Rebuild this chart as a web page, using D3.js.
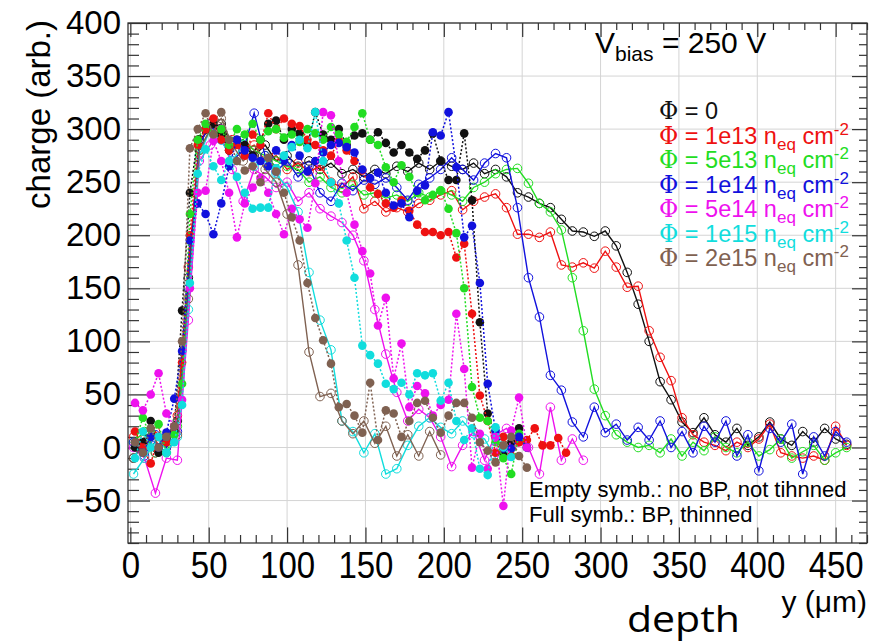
<!DOCTYPE html>
<html>
<head>
<meta charset="utf-8">
<script src="https://cdn.jsdelivr.net/npm/d3@7"></script>
<style>
  body { margin:0; background:#fff; }
  text { font-family: "Liberation Sans", Arial, sans-serif; fill:#000; }
  .grid line { stroke:#d4d4d4; stroke-width:1; }
  .ax path { display:none; }
  .ax line { stroke:#333; stroke-width:1.2; }
</style>
</head>
<body>
<script>
// sample positions (um)
var depthEmpty = [2,9,16,23,30,37,44,51,58,65,72,79,86,93,100,107,114,121,128,135,142,149,156,163,170,177,184,191,198,205,212,219,226,233,240,247,254,261,268,275,282,289,296,303,310,317,324,331,338,345,352,359,366,373,380,387,394,401,408,415,422,429,436,443,450,457]
var depthFull = [3,8,13,18,23,28,33,38,43,48,53,58,63,68,73,78,83,88,93,98,103,108,113,118,123,128,133,138,143,148,153,158,163,168,173,178,183,188,193,198,203,208,213,218,223,228,233,238,243,248,253,258,263,268,273,278]

// empty symbols: no BP, not thinned
var empty0    = [-10,5,0,10,25,160,290,300,305,285,290,275,285,270,275,265,270,262,268,258,262,255,262,258,265,260,268,262,270,265,262,268,258,262,255,240,236,230,226,215,204,203,199,204,190,165,135,100,62,45,24,14,28,12,5,18,2,10,24,8,2,15,5,18,8,3]
var empty1e13 = [10,-5,15,0,30,170,285,305,295,290,280,285,270,275,262,268,260,265,250,245,255,225,232,222,226,222,230,233,238,242,224,232,236,239,226,201,201,198,203,172,170,174,169,185,170,151,152,110,85,63,28,12,5,2,-3,5,0,8,22,-5,-8,-10,-8,-12,20,2]
var empty5e13 = [5,15,-5,10,20,150,280,300,295,285,290,280,275,270,265,262,250,255,245,240,248,238,240,235,238,232,240,236,242,238,232,245,250,258,262,263,249,230,222,205,160,110,55,30,12,5,0,2,-5,8,-8,5,-3,10,0,-5,5,-8,-2,8,-10,-4,2,-12,-5,0]
var empty1e14 = [5,-8,12,0,15,150,285,305,290,270,280,315,275,260,270,255,265,240,232,249,242,252,248,254,245,233,248,254,262,273,262,252,268,277,273,226,160,123,68,54,24,10,38,14,22,7,19,7,25,0,15,-5,20,5,25,-8,12,-22,18,5,22,-25,10,-8,15,5]
var empty5e14 = [0,-10,-43,-10,-12,120,270,285,300,262,232,262,255,245,250,232,240,225,218,212,200,176,130,88,52,25,36,28,10,-18,2,15,-12,12,18,5,0,-25,38,-12,8,-12]
var empty1e15 = [-25,-10,5,-5,10,130,275,300,290,270,285,265,270,258,245,222,165,120,92,25,15,-5,13,-25,-20,2,20,28,19,13,25,13,8,-10]
var empty2e15 = [-10,8,-5,10,12,140,280,300,310,285,270,280,262,250,220,172,90,48,51,25,13,25,4,20,-8,12,-8,15,-7]

// full symbols: BP, thinned
var full0    = [0,5,25,-5,8,15,129,240,290,300,305,295,280,290,285,275,290,305,308,290,300,296,285,316,295,290,300,285,294,296,290,297,287,278,285,278,272,280,296,270,252,252,296,233,118,32,10,-5,5,18]
var full1e13 = [15,0,-15,10,5,20,80,200,285,300,310,290,280,285,275,295,285,315,300,310,305,303,290,285,280,275,289,280,270,261,245,239,230,226,233,223,210,203,203,200,203,179,192,126,49,25,-5,10,-8,5,7,18,2,2,9,-5]
var full5e13 = [5,28,10,22,-5,12,60,220,290,305,295,300,285,300,295,305,290,298,300,292,295,288,300,296,290,302,295,288,302,315,290,285,264,250,266,255,240,233,238,242,225,202,150,57,28,25,5,-10,-25,13,0]
var full1e14 = [5,-5,10,0,14,46,91,195,230,220,201,230,265,290,280,273,270,265,280,270,285,275,260,270,278,285,287,283,278,262,254,259,240,228,230,217,242,247,297,294,316,264,198,209,155,60,16,-1,-1,10,0]
var full5e14 = [42,35,50,70,32,20,45,150,240,242,289,270,240,198,230,245,254,240,220,201,225,215,207,249,316,313,270,240,210,185,164,115,141,65,98,38,58,51,30,40,45,126,74,-19,13,-20,10,-55,16,47,0]
var full1e15 = [-10,15,0,10,-5,5,40,155,258,281,265,252,270,255,240,225,226,226,263,275,283,290,282,316,270,250,230,195,160,96,87,79,60,55,61,50,70,68,70,44,61,25,7,18,-20,-26,19,0,-9]
var full2e15 = [5,-5,18,0,10,20,100,282,300,315,295,316,290,270,261,265,250,273,260,240,217,195,155,122,101,79,38,41,30,14,61,7,35,32,10,25,42,44,28,14,30,42,42,28,5,-3,-14,2,10,-8,-19]

var fluenceLabels = ['0', '1e13', '5e13', '1e14', '5e14', '1e15', '2e15']
var colors = ['#111111', '#ee1111', '#22dd22', '#1111dd', '#ee11ee', '#11dddd', '#7f6151']
var emptySeries = [empty0, empty1e13, empty5e13, empty1e14, empty5e14, empty1e15, empty2e15]
var fullSeries = [full0, full1e13, full5e13, full1e14, full5e14, full1e15, full2e15]

var xMajor = [0,50,100,150,200,250,300,350,400,450]
var yMajor = [-50,0,50,100,150,200,250,300,350,400]

var W = 879, H = 642
var svg = d3.select('body').append('svg').attr('width', W).attr('height', H)

var x = d3.scaleLinear().domain([-1.5, 470]).range([128, 867])
var y = d3.scaleLinear().domain([-90, 400]).range([543, 23])

// grid
var grid = svg.append('g').attr('class', 'grid')
grid.selectAll('.gx').data(xMajor).enter().append('line')
  .attr('x1', d => x(d)).attr('x2', d => x(d)).attr('y1', y(400)).attr('y2', y(-90))
grid.selectAll('.gy').data(yMajor).enter().append('line')
  .attr('y1', d => y(d)).attr('y2', d => y(d)).attr('x1', x(-1.5)).attr('x2', x(470))

// ticks (ROOT style, inside the frame)
var xMinor = d3.range(0, 471, 10).filter(v => v % 50 != 0)
var yMinor = d3.range(-90, 401, 10).filter(v => v % 50 != 0)

function ticks(axisFn, scale, pos, vals, size, fmt) {
  var a = axisFn(scale).tickValues(vals).tickSizeInner(-size).tickSizeOuter(0)
  if (fmt) a.tickFormat(fmt).tickPadding(7); else a.tickFormat('')
  return svg.append('g').attr('class', 'ax').attr('transform', pos).call(a)
}
var yl = ticks(d3.axisLeft, y, 'translate(128,0)', yMajor, 22, d => d < 0 ? '\u2212' + Math.abs(d) : d)
ticks(d3.axisLeft, y, 'translate(128,0)', yMinor, 11)
ticks(d3.axisRight, y, 'translate(867,0)', yMajor, 15)
ticks(d3.axisRight, y, 'translate(867,0)', yMinor, 8)
var xl = ticks(d3.axisBottom, x, 'translate(0,543)', xMajor, 15.6, d => d)
ticks(d3.axisBottom, x, 'translate(0,543)', xMinor, 8)
ticks(d3.axisTop, x, 'translate(0,23)', xMajor, 14)
ticks(d3.axisTop, x, 'translate(0,23)', xMinor, 7)

yl.selectAll('text').style('font-size', '33px').attr('fill', '#000')
xl.selectAll('text').style('font-size', '33px').attr('fill', '#000')
  .attr('y', null).attr('dy', null).attr('transform', 'translate(0,35) scale(1,1.14)')

// frame
svg.append('rect').attr('x', 128).attr('y', 23).attr('width', 739).attr('height', 520)
  .attr('fill', 'none').attr('stroke', '#333').attr('stroke-width', 1.3)

// data
var line = d3.line().x(d => x(d[0])).y(d => y(d[1]))
var plot = svg.append('g')

emptySeries.forEach(function(vals, i) {
  var pts = vals.map((v, k) => [depthEmpty[k], v])
  plot.append('path').attr('d', line(pts)).attr('fill', 'none')
    .attr('stroke', colors[i]).attr('stroke-width', 1.4)
  plot.selectAll(null).data(pts).enter().append('circle')
    .attr('cx', d => x(d[0])).attr('cy', d => y(d[1])).attr('r', 4.3)
    .attr('fill', 'none').attr('stroke', colors[i]).attr('stroke-width', 1)
})
fullSeries.forEach(function(vals, i) {
  var pts = vals.map((v, k) => [depthFull[k], v])
  plot.append('path').attr('d', line(pts)).attr('fill', 'none')
    .attr('stroke', colors[i]).attr('stroke-width', 1.5).attr('stroke-dasharray', '2,2')
  plot.selectAll(null).data(pts).enter().append('circle')
    .attr('cx', d => x(d[0])).attr('cy', d => y(d[1])).attr('r', 4.3)
    .attr('fill', colors[i])
})

// axis titles
svg.append('text').attr('transform', 'translate(50,20) rotate(-90)')
  .attr('text-anchor', 'end').style('font-size', '33px').text('charge (arb.)')
svg.append('text').attr('x', 867).attr('y', 612).attr('text-anchor', 'end')
  .style('font-size', '30px').text('y (\u03bcm)')
svg.append('text').attr('x', 627).attr('y', 632).attr('textLength', 113).attr('lengthAdjust', 'spacingAndGlyphs')
  .style('font-family', '"Open Sans", "Noto Sans", sans-serif').style('font-size', '36px').text('depth')

// bias label
var vb = svg.append('text').attr('x', 595).attr('y', 53).style('font-size', '30px')
vb.append('tspan').text('V')
vb.append('tspan').attr('dy', 8).style('font-size', '21px').text('bias')
vb.append('tspan').attr('dy', -8).text(' = 250 V')

// legend
fluenceLabels.forEach(function(lab, i) {
  var t = svg.append('text').attr('x', 659).attr('y', 119 + i * 24.5)
    .style('font-size', '23.5px').attr('fill', colors[i])
  t.append('tspan').style('font-family', '"DejaVu Serif", serif').attr('fill', colors[i]).text('\u03a6')
  if (i == 0) {
    t.append('tspan').attr('fill', colors[i]).text(' = 0')
    return
  }
  t.append('tspan').attr('fill', colors[i]).text(' = ' + lab + ' n')
  t.append('tspan').attr('fill', colors[i]).attr('dy', 6).style('font-size', '17px').text('eq')
  t.append('tspan').attr('fill', colors[i]).attr('dy', -6).text(' cm')
  t.append('tspan').attr('fill', colors[i]).attr('dy', -9).style('font-size', '17px').text('-2')
})

// note
svg.append('text').attr('x', 529).attr('y', 497).style('font-size', '22px').text('Empty symb.: no BP, not tihnned')
svg.append('text').attr('x', 529).attr('y', 522).style('font-size', '22px').text('Full symb.: BP, thinned')
</script>
</body>
</html>
